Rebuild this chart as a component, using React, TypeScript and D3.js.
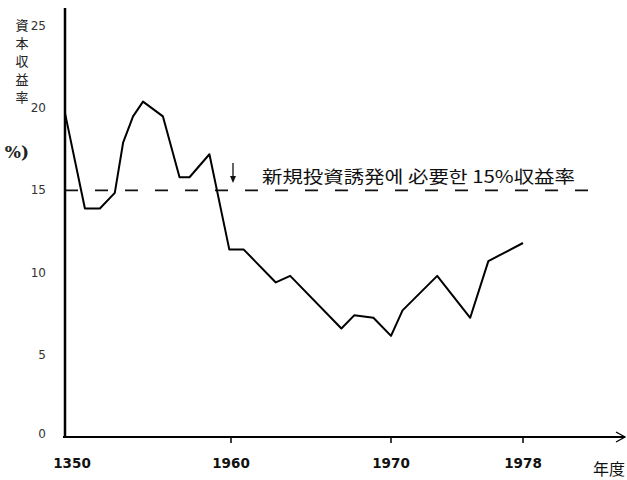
import React from 'react';
import * as d3 from 'd3';

const years = [1950, 1951.2, 1952.1, 1953, 1953.5, 1954.1, 1954.7, 1955.9, 1956.9, 1957.5, 1958.7, 1959.9, 1960.8, 1962.8, 1963.7, 1966.9, 1967.7, 1968.9, 1970, 1970.7, 1972.8, 1974.8, 1975.9, 1978];
const rates = [19.7, 13.9, 13.9, 14.85, 17.9, 19.5, 20.4, 19.5, 15.8, 15.8, 17.2, 11.4, 11.4, 9.4, 9.8, 6.6, 7.4, 7.25, 6.15, 7.7, 9.8, 7.25, 10.7, 11.8];

const xTicks = [1950, 1960, 1970, 1978];
const xTickLabels = ['1350', '1960', '1970', '1978'];
const yTicks = [0, 5, 10, 15, 20, 25];
const yTitle = ['資', '本', '収', '益', '率'];
const refRate = 15;
const refLabel = '新規投資誘発에 必要한 15%収益率';

const W = 627;
const H = 480;

const App: React.FC = () => {
  const x = d3.scaleLinear().domain([1950, 1960, 1970, 1978]).range([65, 231, 391, 523]);
  const y = d3.scaleLinear().domain([0, 25]).range([437, 26]);

  const line = d3.line<number>()
    .x((_, i) => x(years[i]))
    .y(d => y(d));

  const x0 = x(1950);
  const y0 = y(0);
  const xEnd = 625;

  return (
    <svg width={W} height={H} style={{ position: 'absolute', left: 0, top: 0, background: '#fff' }}>
      {/* y title, partly cut at the left edge */}
      <g fontFamily="'Noto Sans CJK JP', serif" fontSize={13} fill="#222">
        {yTitle.map((c, i) => (
          <text key={c} x={22} y={30 + i * 18} textAnchor="middle">{c}</text>
        ))}
        <text x={29} y={158} textAnchor="end" fontSize={17} fontWeight="bold" fontFamily="'DejaVu Serif', serif">%)</text>
      </g>

      {/* y tick labels */}
      <g fontFamily="'DejaVu Sans', sans-serif" fontSize={12} fill="#333">
        {yTicks.map(t => (
          <text key={t} x={46} y={y(t) - (t === 0 ? 3 : 0)} textAnchor="end" dominantBaseline="central">{t}</text>
        ))}
      </g>

      {/* reference dashed line */}
      <line x1={x0} x2={598} y1={y(refRate)} y2={y(refRate)} stroke="#111" strokeWidth={1.6} strokeDasharray="13 17" />
      <line x1={233} x2={233} y1={163} y2={180} stroke="#111" strokeWidth={1.3} />
      <path d="M230,176 L236,176 L233,183 Z" fill="#111" />
      <text x={262} y={183} fontFamily="'Noto Sans CJK JP', serif" fontSize={17} fill="#111"
        textLength={313} lengthAdjust="spacingAndGlyphs">{refLabel}</text>

      {/* axes */}
      <line x1={x0} x2={x0} y1={8} y2={y0 + 1} stroke="#000" strokeWidth={2.5} />
      <line x1={x0 - 2} x2={xEnd} y1={y0} y2={y0} stroke="#000" strokeWidth={2.2} />
      <path d={`M${xEnd - 9},${y0 - 5} L${xEnd},${y0} L${xEnd - 9},${y0 + 5}`} fill="none" stroke="#000" strokeWidth={1.3} />
      {xTicks.slice(1).map(t => (
        <line key={t} x1={x(t)} x2={x(t)} y1={y0} y2={y0 + 6} stroke="#000" strokeWidth={1.5} />
      ))}

      {/* x tick labels */}
      <g fontFamily="'DejaVu Sans', sans-serif" fontSize={13.5} fontWeight="bold" fill="#111">
        {xTicks.map((t, i) => (
          <text key={t} x={x(t) + (i === 0 ? 7 : 0)} y={468} textAnchor="middle">{xTickLabels[i]}</text>
        ))}
      </g>
      <text x={593} y={475} fontFamily="'Noto Sans CJK JP', serif" fontSize={16} fill="#111">年度</text>

      {/* data line */}
      <path d={line(rates) ?? ''} fill="none" stroke="#000" strokeWidth={2} strokeLinejoin="round" />
    </svg>
  );
};

export default App;
